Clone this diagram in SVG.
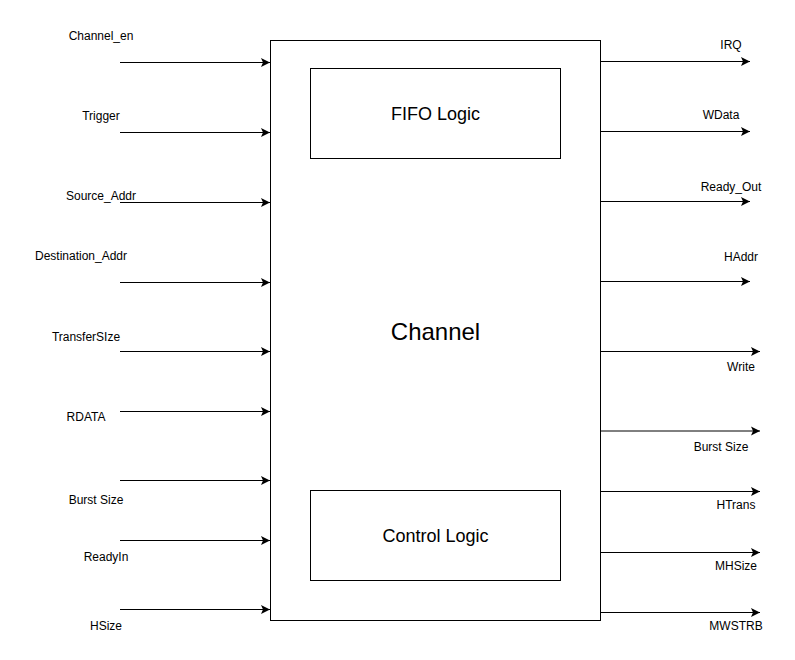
<svg xmlns="http://www.w3.org/2000/svg" width="795" height="660" viewBox="0 0 795 660">
<style>
.box{fill:#fff;stroke:#000;stroke-width:1}
.ln{stroke:#000;stroke-width:1;fill:none}
.t{font-family:"Liberation Sans",Arial,sans-serif;font-size:12px;fill:#000;text-anchor:middle}
.big{font-family:"Liberation Sans",Arial,sans-serif;fill:#000;text-anchor:middle}
</style>
<defs>
<marker id="ah" markerWidth="12" markerHeight="12" refX="9" refY="5" orient="auto" markerUnits="userSpaceOnUse">
<path d="M0,0.5 L9,5 L0,9.5 L2,5 Z" fill="#000"/>
</marker>
</defs>
<rect width="795" height="660" fill="#fff"/>
<g id="channel">
<rect class="box" x="270.5" y="40.5" width="330" height="580"/>
<text class="big" x="435.5" y="339.5" font-size="24">Channel</text>
</g>
<g id="fifo">
<rect class="box" x="310.5" y="68.5" width="250" height="90"/>
<text class="big" x="435.5" y="120" font-size="18">FIFO Logic</text>
</g>
<g id="control">
<rect class="box" x="310.5" y="490.5" width="250" height="90"/>
<text class="big" x="435.5" y="542" font-size="18">Control Logic</text>
</g>
<g id="connectors">
<line class="ln" x1="120" y1="62.5" x2="270" y2="62.5" marker-end="url(#ah)"/>
<line class="ln" x1="120" y1="132.5" x2="270" y2="132.5" marker-end="url(#ah)"/>
<line class="ln" x1="120" y1="202.5" x2="270" y2="202.5" marker-end="url(#ah)"/>
<line class="ln" x1="120" y1="282.5" x2="270" y2="282.5" marker-end="url(#ah)"/>
<line class="ln" x1="120" y1="351.5" x2="270" y2="351.5" marker-end="url(#ah)"/>
<line class="ln" x1="120" y1="411.5" x2="270" y2="411.5" marker-end="url(#ah)"/>
<line class="ln" x1="120" y1="480.5" x2="270" y2="480.5" marker-end="url(#ah)"/>
<line class="ln" x1="120" y1="540.5" x2="270" y2="540.5" marker-end="url(#ah)"/>
<line class="ln" x1="120" y1="609.5" x2="270" y2="609.5" marker-end="url(#ah)"/>
<line class="ln" x1="600" y1="61.5" x2="750" y2="61.5" marker-end="url(#ah)"/>
<line class="ln" x1="600" y1="131.5" x2="750" y2="131.5" marker-end="url(#ah)"/>
<line class="ln" x1="600" y1="201.5" x2="750" y2="201.5" marker-end="url(#ah)"/>
<line class="ln" x1="600" y1="281.5" x2="750" y2="281.5" marker-end="url(#ah)"/>
<line class="ln" x1="600" y1="351.5" x2="760" y2="351.5" marker-end="url(#ah)"/>
<line class="ln" x1="600" y1="431" x2="760" y2="431" marker-end="url(#ah)"/>
<line class="ln" x1="600" y1="491.5" x2="760" y2="491.5" marker-end="url(#ah)"/>
<line class="ln" x1="600" y1="552.5" x2="760" y2="552.5" marker-end="url(#ah)"/>
<line class="ln" x1="600" y1="612.5" x2="760" y2="612.5" marker-end="url(#ah)"/>
</g>
<g id="labels">
<text class="t" x="101" y="40">Channel_en</text>
<text class="t" x="101" y="120">Trigger</text>
<text class="t" x="101" y="200">Source_Addr</text>
<text class="t" x="81" y="260">Destination_Addr</text>
<text class="t" x="86" y="341">TransferSIze</text>
<text class="t" x="86" y="421">RDATA</text>
<text class="t" x="96" y="504">Burst Size</text>
<text class="t" x="106" y="561">ReadyIn</text>
<text class="t" x="106" y="630">HSize</text>
<text class="t" x="731" y="49">IRQ</text>
<text class="t" x="721" y="119">WData</text>
<text class="t" x="731" y="191">Ready_Out</text>
<text class="t" x="741" y="261">HAddr</text>
<text class="t" x="741" y="371">Write</text>
<text class="t" x="721" y="451">Burst Size</text>
<text class="t" x="736" y="509">HTrans</text>
<text class="t" x="736" y="570">MHSize</text>
<text class="t" x="736" y="630">MWSTRB</text>
</g>
</svg>
